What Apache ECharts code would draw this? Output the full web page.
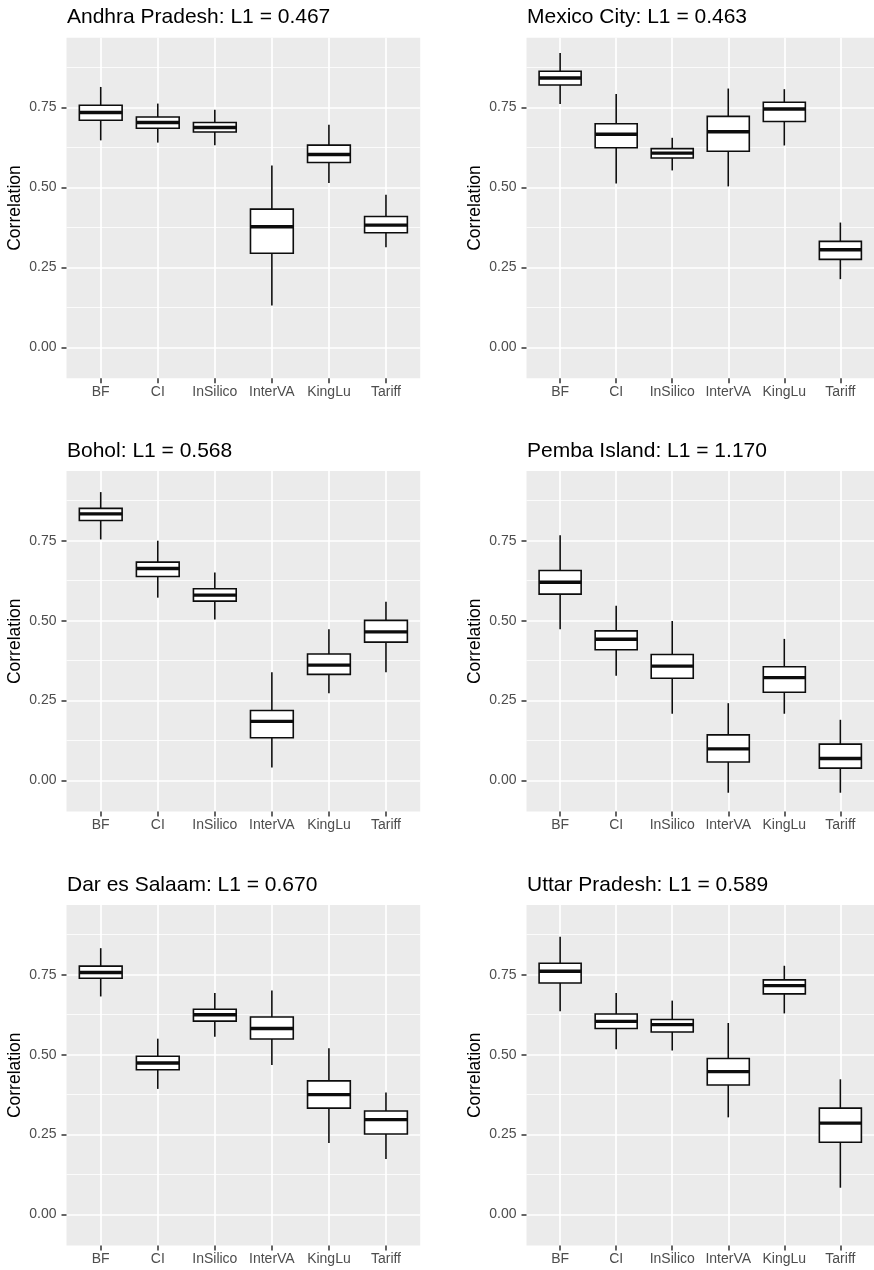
<!DOCTYPE html>
<html>
<head>
<meta charset="utf-8">
<script src="https://cdn.jsdelivr.net/npm/echarts@6/dist/echarts.min.js"></script>
<style>
  html, body { margin: 0; padding: 0; background: #ffffff; }
  #chart { width: 874px; height: 1270px; }
</style>
</head>
<body>
<div id="chart"></div>
<script>
// ---------------- data ----------------
const methods = ['BF', 'CI', 'InSilico', 'InterVA', 'KingLu', 'Tariff'];
const yMajorTicks = [0, 0.25, 0.5, 0.75];
const yMinorTicks = [0.125, 0.375, 0.625, 0.875];
const siteNames = ['Andhra Pradesh', 'Mexico City', 'Bohol', 'Pemba Island', 'Dar es Salaam', 'Uttar Pradesh'];
const siteL1 = ['0.467', '0.463', '0.568', '1.170', '0.670', '0.589'];

// each row: [min, Q1, median, Q3, max] for methods in order
const andhraPradesh = [
  [0.647, 0.710, 0.734, 0.757, 0.814],
  [0.640, 0.685, 0.703, 0.720, 0.762],
  [0.632, 0.673, 0.687, 0.703, 0.743],
  [0.131, 0.294, 0.377, 0.432, 0.568],
  [0.514, 0.578, 0.603, 0.632, 0.696],
  [0.313, 0.358, 0.382, 0.409, 0.477]
];
const mexicoCity = [
  [0.761, 0.820, 0.842, 0.863, 0.920],
  [0.512, 0.624, 0.666, 0.699, 0.792],
  [0.553, 0.592, 0.607, 0.621, 0.655],
  [0.503, 0.613, 0.674, 0.722, 0.809],
  [0.631, 0.706, 0.745, 0.766, 0.807],
  [0.213, 0.275, 0.305, 0.331, 0.390]
];
const bohol = [
  [0.754, 0.813, 0.834, 0.851, 0.902],
  [0.572, 0.638, 0.663, 0.683, 0.750],
  [0.504, 0.561, 0.580, 0.600, 0.651],
  [0.041, 0.134, 0.185, 0.219, 0.339],
  [0.273, 0.332, 0.361, 0.396, 0.473],
  [0.339, 0.433, 0.465, 0.501, 0.559]
];
const pembaIsland = [
  [0.473, 0.583, 0.620, 0.657, 0.767],
  [0.328, 0.409, 0.442, 0.468, 0.547],
  [0.209, 0.320, 0.358, 0.394, 0.499],
  [-0.038, 0.058, 0.099, 0.143, 0.242],
  [0.209, 0.276, 0.322, 0.356, 0.443],
  [-0.038, 0.039, 0.069, 0.114, 0.190]
];
const darEsSalaam = [
  [0.682, 0.739, 0.757, 0.777, 0.833],
  [0.393, 0.453, 0.474, 0.495, 0.550],
  [0.556, 0.605, 0.625, 0.642, 0.693],
  [0.468, 0.549, 0.582, 0.618, 0.701],
  [0.224, 0.333, 0.375, 0.418, 0.520],
  [0.174, 0.252, 0.297, 0.324, 0.382]
];
const uttarPradesh = [
  [0.636, 0.724, 0.761, 0.786, 0.869],
  [0.517, 0.582, 0.604, 0.627, 0.693],
  [0.513, 0.571, 0.594, 0.610, 0.669],
  [0.304, 0.405, 0.447, 0.488, 0.599],
  [0.629, 0.690, 0.716, 0.734, 0.778],
  [0.084, 0.226, 0.286, 0.333, 0.423]
];
const siteStats = [andhraPradesh, mexicoCity, bohol, pembaIsland, darEsSalaam, uttarPradesh];

// ---------------- layout & style ----------------
const Y_MIN = -0.097, Y_MAX = 0.968;
const X_MIN = -0.6, X_MAX = 5.6;
const BOX_FRAC = 0.75;
const PANEL_W = 353.7, PANEL_H = 340.6;
const COL_LEFT = [66.5, 526.5];
const ROW_TOP = [37.7, 471, 905];
const FONT = '"Liberation Sans", Arial, Helvetica, sans-serif';
const PANEL_BG = '#EBEBEB';
const INK = '#0d0d0d';
const TICK_COLOR = '#333333';

const grids = [], xAxes = [], yAxes = [], series = [], titles = [];

siteNames.forEach((name, i) => {
  const left = COL_LEFT[i % 2];
  const top = ROW_TOP[Math.floor(i / 2)];
  grids.push({
    left: left, top: top, width: PANEL_W, height: PANEL_H,
    show: true, backgroundColor: PANEL_BG, borderWidth: 0, containLabel: false
  });
  titles.push({
    text: name + ': L1 = ' + siteL1[i],
    left: left + 0.5, top: top - 30.6, padding: 0,
    textStyle: { fontFamily: FONT, fontSize: 21, fontWeight: 'normal', color: '#000' }
  });
  xAxes.push({
    type: 'value', gridIndex: i, min: X_MIN, max: X_MAX, position: 'bottom',
    axisLine: { show: true, onZero: false, lineStyle: { color: 'rgba(0,0,0,0)' } },
    axisTick: { show: true, length: 5, customValues: [0, 1, 2, 3, 4, 5],
                lineStyle: { color: TICK_COLOR, width: 1.5 } },
    axisLabel: { customValues: [0, 1, 2, 3, 4, 5], margin: 7,
                 formatter: v => methods[Math.round(v)],
                 fontFamily: FONT, fontSize: 14, color: '#4D4D4D' },
    splitLine: { show: true, lineStyle: { color: '#FFFFFF', width: 1.7 } }
  });
  // major y axis with labels
  yAxes.push({
    type: 'value', gridIndex: i, min: Y_MIN, max: Y_MAX, position: 'left',
    name: 'Correlation', nameLocation: 'middle', nameGap: 42,
    nameTextStyle: { fontFamily: FONT, fontSize: 17.5, color: '#000' },
    axisLine: { show: true, onZero: false, lineStyle: { color: 'rgba(0,0,0,0)' } },
    axisTick: { show: true, length: 5, customValues: yMajorTicks,
                lineStyle: { color: TICK_COLOR, width: 1.5 } },
    axisLabel: { customValues: yMajorTicks, margin: 10,
                 formatter: v => v.toFixed(2),
                 fontFamily: FONT, fontSize: 14, color: '#4D4D4D' },
    splitLine: { show: true, lineStyle: { color: '#FFFFFF', width: 1.6 } }
  });
  // minor y gridlines
  yAxes.push({
    type: 'value', gridIndex: i, min: Y_MIN, max: Y_MAX, position: 'right',
    axisLine: { show: false, onZero: false },
    axisTick: { show: false, customValues: yMinorTicks },
    axisLabel: { show: false, customValues: yMinorTicks },
    splitLine: { show: true, lineStyle: { color: '#FFFFFF', width: 0.8 } }
  });
  series.push({
    type: 'custom',
    xAxisIndex: i, yAxisIndex: 2 * i,
    encode: { x: 0, y: [1, 2, 3, 4, 5] },
    data: siteStats[i].map((s, k) => [k].concat(s)),
    silent: true,
    renderItem: function (params, api) {
      const x = api.value(0);
      const mn = api.value(1), q1 = api.value(2), md = api.value(3), q3 = api.value(4), mx = api.value(5);
      const half = api.size([BOX_FRAC, 0])[0] / 2;
      const pMax = api.coord([x, mx]);
      const pQ3 = api.coord([x, q3]);
      const pMd = api.coord([x, md]);
      const pQ1 = api.coord([x, q1]);
      const pMin = api.coord([x, mn]);
      const cx = pMd[0];
      const st = { stroke: INK, lineWidth: 1.6, fill: null };
      return {
        type: 'group',
        children: [
          { type: 'line', shape: { x1: cx, y1: pMax[1], x2: cx, y2: pQ3[1] }, style: st },
          { type: 'line', shape: { x1: cx, y1: pQ1[1], x2: cx, y2: pMin[1] }, style: st },
          { type: 'rect', shape: { x: cx - half, y: pQ3[1], width: 2 * half, height: pQ1[1] - pQ3[1] },
            style: { fill: '#FFFFFF', stroke: INK, lineWidth: 1.6 } },
          { type: 'line', shape: { x1: cx - half, y1: pMd[1], x2: cx + half, y2: pMd[1] },
            style: { stroke: INK, lineWidth: 3.4 } }
        ]
      };
    }
  });
});

const chart = echarts.init(document.getElementById('chart'), null, { renderer: 'canvas' });
chart.setOption({
  animation: false,
  backgroundColor: '#FFFFFF',
  textStyle: { fontFamily: FONT },
  title: titles,
  grid: grids,
  xAxis: xAxes,
  yAxis: yAxes,
  series: series
});
</script>
</body>
</html>
